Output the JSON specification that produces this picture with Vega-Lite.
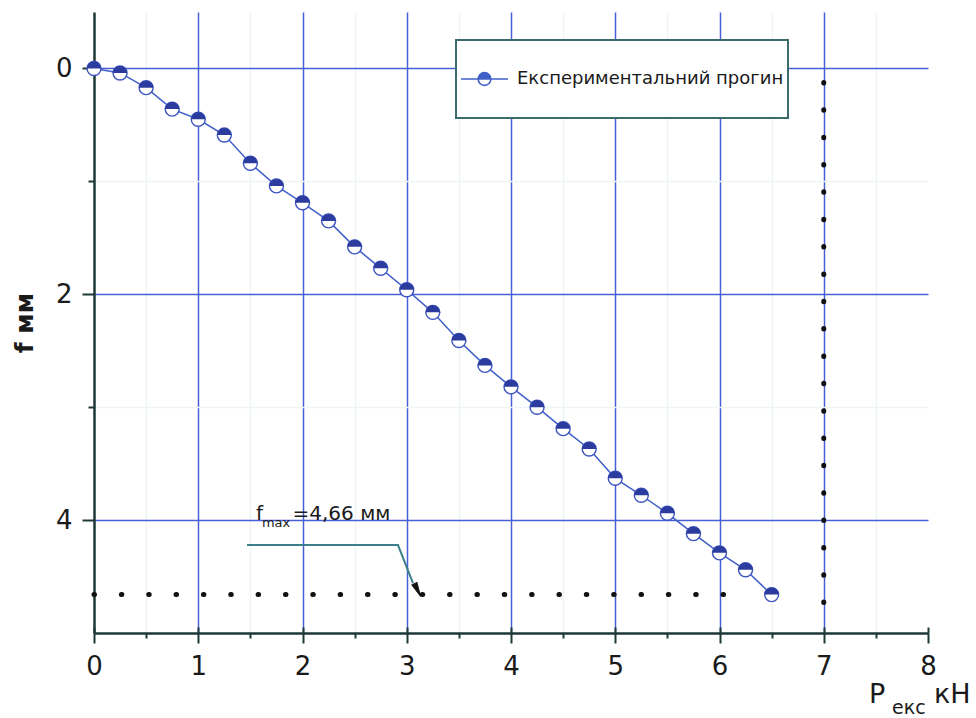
{
  "$schema": "https://vega.github.io/schema/vega-lite/v6.json",
  "width": 834,
  "height": 621,
  "autosize": {"type": "none"},
  "padding": {"left": 94, "top": 12, "right": 48, "bottom": 85},
  "background": "white",
  "config": {"view": {"stroke": null}, "font": "DejaVu Sans"},
  "datasets": {
    "exp": [
      {"P": 0, "f": 0}, {"P": 0.25, "f": 0.04}, {"P": 0.5, "f": 0.17}, {"P": 0.75, "f": 0.36},
      {"P": 1, "f": 0.45}, {"P": 1.25, "f": 0.59}, {"P": 1.5, "f": 0.84}, {"P": 1.75, "f": 1.04},
      {"P": 2, "f": 1.19}, {"P": 2.25, "f": 1.35}, {"P": 2.5, "f": 1.58}, {"P": 2.75, "f": 1.77},
      {"P": 3, "f": 1.96}, {"P": 3.25, "f": 2.16}, {"P": 3.5, "f": 2.41}, {"P": 3.75, "f": 2.63},
      {"P": 4, "f": 2.82}, {"P": 4.25, "f": 3.0}, {"P": 4.5, "f": 3.19}, {"P": 4.75, "f": 3.37},
      {"P": 5, "f": 3.63}, {"P": 5.25, "f": 3.78}, {"P": 5.5, "f": 3.94}, {"P": 5.75, "f": 4.12},
      {"P": 6, "f": 4.29}, {"P": 6.25, "f": 4.44}, {"P": 6.5, "f": 4.66}
    ],
    "hdots": [{"x": 0, "x2": 6.04, "y": 4.66}],
    "vdots": [{"x": 7, "y": 0.124, "y2": 4.965}],
    "leader": [{"x": 1.468, "y": 4.221}, {"x": 2.916, "y": 4.221}, {"x": 3.06, "y": 4.558}],
    "arrow": [{"x": 3.103, "y": 4.619}],
    "lblBig": [{"x": 1.554, "y": 4.0, "t": "f"}, {"x": 1.904, "y": 4.0, "t": "=4,66 мм"}],
    "lblSmall": [{"x": 1.611, "y": 4.062, "t": "max"}],
    "xtBig": [{"x": 7.434, "y": 5.619, "t": "P"}, {"x": 8.058, "y": 5.619, "t": "кН"}],
    "xtSmall": [{"x": 7.655, "y": 5.717, "t": "екс"}]
  },
  "resolve": {"axis": {"x": "independent"}},
  "layer": [
    {
      "data": {"name": "exp"},
      "mark": {"type": "line", "strokeWidth": 1.5},
      "encoding": {
        "x": {
          "field": "P", "type": "quantitative",
          "scale": {"domain": [0, 8], "nice": false, "zero": false},
          "axis": {
            "orient": "bottom",
            "values": [0, 0.5, 1, 1.5, 2, 2.5, 3, 3.5, 4, 4.5, 5, 5.5, 6, 6.5, 7, 7.5, 8],
            "labelExpr": "datum.value % 1 == 0 ? format(datum.value, 'd') : ''",
            "title": null,
            "grid": true,
            "gridColor": {"condition": {"test": "datum.value % 1 != 0", "value": "#edf5f7"}, "value": "#4760d8"},
            "gridOpacity": {"condition": {"test": "datum.value == 8 || datum.value == 0", "value": 0}, "value": 1},
            "gridWidth": 1.5,
            "tickSize": {"condition": {"test": "datum.value % 1 != 0", "value": 5}, "value": 10},
            "tickColor": "#1e3838",
            "tickWidth": 2,
            "domainColor": "#1e3838",
            "domainWidth": 2.5,
            "labelFont": "DejaVu Sans",
            "labelFontSize": 26,
            "labelColor": "#1a1a1a",
            "labelPadding": 10,
            "labelFlush": false,
            "labelOverlap": false
          }
        },
        "y": {
          "field": "f", "type": "quantitative",
          "scale": {"domain": [-0.5, 5], "reverse": true, "nice": false, "zero": false},
          "axis": {
            "values": [0, 1, 2, 3, 4],
            "labelExpr": "datum.value % 2 == 0 ? format(datum.value, 'd') : ''",
            "title": "f мм",
            "titleFont": "DejaVu Sans",
            "titleFontSize": 25,
            "titleFontWeight": "bold",
            "titleColor": "#1a1a1a",
            "titleX": -62,
            "titleBaseline": "alphabetic",
            "grid": true,
            "gridColor": {"condition": {"test": "datum.value % 2 != 0", "value": "#edf5f7"}, "value": "#4760d8"},
            "gridWidth": 1.5,
            "tickSize": {"condition": {"test": "datum.value % 2 != 0", "value": 6}, "value": 12},
            "tickColor": "#1e3838",
            "tickWidth": 2,
            "domainColor": "#1e3838",
            "domainWidth": 2.5,
            "labelFont": "DejaVu Sans",
            "labelFontSize": 26,
            "labelColor": "#1a1a1a",
            "labelPadding": 10,
            "labelFlush": false,
            "labelOverlap": false
          }
        },
        "color": {
          "datum": "Експериментальний прогин",
          "scale": {"range": ["#4060c8"]},
          "legend": {
            "title": null,
            "orient": "none",
            "legendX": 362,
            "legendY": 28,
            "symbolType": "M -1 0 L 1 0 M -0.27 0 A 0.27 0.27 0 1 1 0.27 0 A 0.27 0.27 0 1 1 -0.27 0 Z M -0.265 -0.03 L 0.265 -0.03 M -0.255 -0.08 L 0.255 -0.08 M -0.235 -0.13 L 0.235 -0.13 M -0.2 -0.18 L 0.2 -0.18 M -0.15 -0.22 L 0.15 -0.22",
            "symbolSize": 2209,
            "symbolStrokeWidth": 1.6,
            "symbolFillColor": "white",
            "symbolStrokeColor": "#3246b0",
            "labelFont": "DejaVu Sans",
            "labelFontSize": 18,
            "labelColor": "#1a1a1a",
            "labelOffset": 8,
            "labelLimit": 400,
            "padding": 4,
            "clipHeight": 70,
            "strokeColor": "#3c6b6b",
            "fillColor": "white",
            "encode": {"legend": {"update": {"strokeWidth": {"value": 2}}}}
          }
        }
      }
    },
    {
      "data": {"name": "hdots"},
      "mark": {"type": "rule", "color": "#111111", "strokeWidth": 5, "strokeCap": "round", "strokeDash": [0.5, 26.85]},
      "encoding": {
        "x": {
          "field": "x", "type": "quantitative",
          "axis": {
            "orient": "bottom",
            "values": [0, 1, 2, 3, 4, 5, 6, 7, 8],
            "tickSize": -6,
            "tickColor": "#1e3838",
            "tickWidth": 2,
            "labels": false,
            "domain": false,
            "grid": false,
            "title": null
          }
        },
        "x2": {"field": "x2"},
        "y": {"field": "y", "type": "quantitative"}
      }
    },
    {
      "data": {"name": "vdots"},
      "mark": {"type": "rule", "color": "#111111", "strokeWidth": 5, "strokeCap": "round", "strokeDash": [0.5, 26.85]},
      "encoding": {
        "x": {"field": "x", "type": "quantitative", "axis": null},
        "y": {"field": "y", "type": "quantitative"},
        "y2": {"field": "y2"}
      }
    },
    {
      "data": {"name": "exp"},
      "mark": {"type": "point", "shape": "circle", "filled": true, "fill": "white", "stroke": "#3c54c0", "strokeWidth": 1.4, "size": 196, "opacity": 1},
      "encoding": {
        "x": {"field": "P", "type": "quantitative", "axis": null},
        "y": {"field": "f", "type": "quantitative"}
      }
    },
    {
      "data": {"name": "exp"},
      "mark": {"type": "point", "shape": "M -1 0 A 1 1 0 0 1 1 0 Z", "filled": true, "fill": "#2b3c9e", "strokeWidth": 0, "size": 196, "opacity": 1},
      "encoding": {
        "x": {"field": "P", "type": "quantitative", "axis": null},
        "y": {"field": "f", "type": "quantitative"}
      }
    },
    {
      "data": {"name": "leader"},
      "mark": {"type": "line", "color": "#3d7f8a", "strokeWidth": 2},
      "encoding": {
        "x": {"field": "x", "type": "quantitative", "axis": null},
        "y": {"field": "y", "type": "quantitative"}
      }
    },
    {
      "data": {"name": "arrow"},
      "mark": {"type": "point", "shape": "M -0.4 -1 L 0.4 -1 L 0 1 Z", "filled": true, "fill": "#111111", "stroke": "#111111", "strokeWidth": 1, "size": 196, "angle": 334, "opacity": 1},
      "encoding": {
        "x": {"field": "x", "type": "quantitative", "axis": null},
        "y": {"field": "y", "type": "quantitative"}
      }
    },
    {
      "data": {"name": "lblBig"},
      "mark": {"type": "text", "font": "DejaVu Sans", "fontSize": 20, "align": "left", "baseline": "alphabetic", "color": "#1a1a1a"},
      "encoding": {
        "x": {"field": "x", "type": "quantitative", "axis": null},
        "y": {"field": "y", "type": "quantitative"},
        "text": {"field": "t"}
      }
    },
    {
      "data": {"name": "lblSmall"},
      "mark": {"type": "text", "font": "DejaVu Sans", "fontSize": 13, "align": "left", "baseline": "alphabetic", "color": "#1a1a1a"},
      "encoding": {
        "x": {"field": "x", "type": "quantitative", "axis": null},
        "y": {"field": "y", "type": "quantitative"},
        "text": {"field": "t"}
      }
    },
    {
      "data": {"name": "xtBig"},
      "mark": {"type": "text", "font": "DejaVu Sans", "fontSize": 27, "align": "left", "baseline": "alphabetic", "color": "#1a1a1a"},
      "encoding": {
        "x": {"field": "x", "type": "quantitative", "axis": null},
        "y": {"field": "y", "type": "quantitative"},
        "text": {"field": "t"}
      }
    },
    {
      "data": {"name": "xtSmall"},
      "mark": {"type": "text", "font": "DejaVu Sans", "fontSize": 19, "align": "left", "baseline": "alphabetic", "color": "#1a1a1a"},
      "encoding": {
        "x": {"field": "x", "type": "quantitative", "axis": null},
        "y": {"field": "y", "type": "quantitative"},
        "text": {"field": "t"}
      }
    }
  ]
}
